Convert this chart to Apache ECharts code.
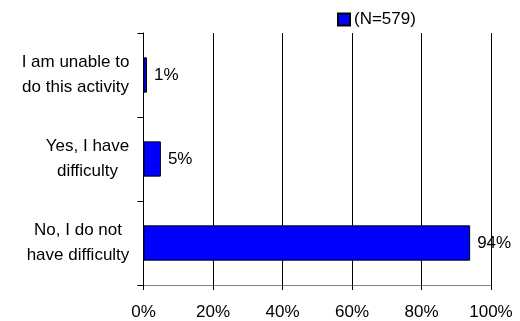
<!DOCTYPE html>
<html>
<head>
<meta charset="utf-8">
<script src="https://cdn.jsdelivr.net/npm/echarts@6/dist/echarts.min.js"></script>
<style>
html, body { margin: 0; padding: 0; background: #fff; }
#chart { width: 520px; height: 321px; }
</style>
</head>
<body>
<div id="chart"></div>
<script>
// categories from bottom to top
var categories = ['No, I do not\nhave difficulty', 'Yes, I have\ndifficulty', 'I am unable to\ndo this activity']
var values = [94, 5, 1]
var seriesName = '(N=579)'
var xTicks = [0, 20, 40, 60, 80, 100]

var font = 'Liberation Sans, Arial, sans-serif'
var fontSize = 17

// each label block is right aligned, lines centred inside the block
var ctx = document.createElement('canvas').getContext('2d')
ctx.font = fontSize + 'px ' + font
var rich = {}
categories.forEach(function (c, i) {
	var w = Math.max.apply(null, c.split('\n').map(function (l) { return ctx.measureText(l).width }))
	rich['c' + i] = { width: Math.ceil(w), align: 'center', fontSize: fontSize, lineHeight: 25, color: '#000', fontFamily: font }
})

var chart = echarts.init(document.getElementById('chart'))

chart.setOption({
	animation: false,
	textStyle: { fontFamily: font },
	legend: {
		data: [seriesName],
		icon: 'rect',
		left: 332,
		top: 6,
		itemWidth: 12,
		itemHeight: 12,
		itemGap: 4,
		textStyle: { fontSize: fontSize, color: '#000', fontFamily: font, padding: [0, 0, 0, -1] },
	},
	grid: {
		left: 143.5,
		right: 29,
		top: 33,
		bottom: 36,
	},
	xAxis: {
		type: 'value',
		min: xTicks[0],
		max: xTicks[xTicks.length - 1],
		interval: 20,
		axisLine: { show: true, lineStyle: { color: '#808080', width: 1 } },
		axisTick: { show: true, length: 5, lineStyle: { color: '#000' } },
		axisLabel: {
			formatter: '{value}%',
			fontSize: fontSize,
			color: '#000',
			margin: 19,
			fontFamily: font,
		},
		splitLine: { show: true, lineStyle: { color: '#000', width: 1 } },
	},
	yAxis: {
		type: 'category',
		data: categories,
		axisLine: { show: true, lineStyle: { color: '#000', width: 1 } },
		axisTick: { show: true, length: 6, lineStyle: { color: '#000' } },
		axisLabel: {
			margin: 14,
			align: 'right',
			formatter: function (v, i) {
				return v.split('\n').map(function (l) { return '{c' + i + '|' + l + '}' }).join('\n')
			},
			rich: rich,
		},
	},
	series: [
		{
			name: seriesName,
			type: 'bar',
			data: values,
			barCategoryGap: '58%',
			itemStyle: { color: '#0000FF', borderColor: '#000', borderWidth: 1 },
			label: {
				show: true,
				position: 'right',
				distance: 7,
				formatter: '{c}%',
				fontSize: fontSize,
				color: '#000',
				fontFamily: font,
			},
		},
	],
})
</script>
</body>
</html>
